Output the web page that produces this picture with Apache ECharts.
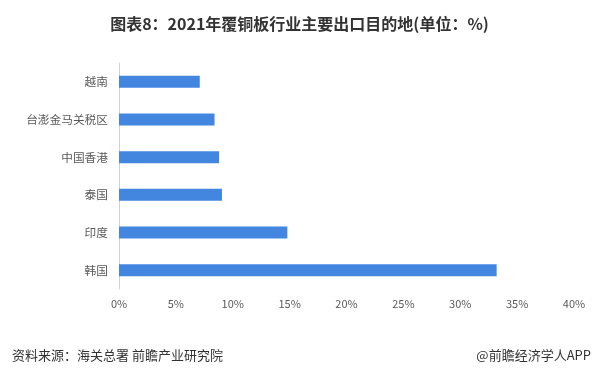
<!DOCTYPE html>
<html><head><meta charset="utf-8">
<script src="https://cdn.jsdelivr.net/npm/echarts@6/dist/echarts.min.js"></script>
<style>html,body{margin:0;padding:0;background:#fff}#c{width:599px;height:373px}</style>
</head><body><div id="c"></div>
<script>
const categories = ['越南','台澎金马关税区','中国香港','泰国','印度','韩国'];
const values = [7.1, 8.4, 8.8, 9.05, 14.8, 33.2];
const xTicks = [0,5,10,15,20,25,30,35,40];
const chart = echarts.init(document.getElementById('c'));
chart.setOption({
  animation:false,
  title:[{text:'图表8：2021年覆铜板行业主要出口目的地(单位：%)',left:'center',top:11,
    textStyle:{fontSize:16,fontWeight:'bold',color:'#333',fontFamily:'Noto Sans CJK SC'}},
    {text:'资料来源：海关总署 前瞻产业研究院',left:7,top:344,textStyle:{fontSize:13,fontWeight:'normal',color:'#333',fontFamily:'Noto Sans CJK SC'}},
    {text:'@前瞻经济学人APP',right:3,top:344,textStyle:{fontSize:13,fontWeight:'normal',color:'#333',fontFamily:'Noto Sans CJK SC'}}],
  grid:{left:119,right:25,top:63,bottom:84},
  xAxis:{type:'value',min:xTicks[0],max:xTicks[xTicks.length-1],interval:5,
    axisLine:{show:false},axisTick:{show:false},splitLine:{show:false},
    axisLabel:{formatter:'{value}%',color:'#595959',fontSize:11,margin:9,fontFamily:'Noto Sans CJK SC'}},
  yAxis:{type:'category',data:categories,inverse:true,
    axisLine:{show:true,lineStyle:{color:'#d0d0d0'}},axisTick:{show:false},
    axisLabel:{color:'#595959',fontSize:11.7,margin:11,fontFamily:'Noto Sans CJK SC'}},
  series:[{type:'bar',data:values,barWidth:12,itemStyle:{color:'#4286e0'}}]
});
</script></body></html>
